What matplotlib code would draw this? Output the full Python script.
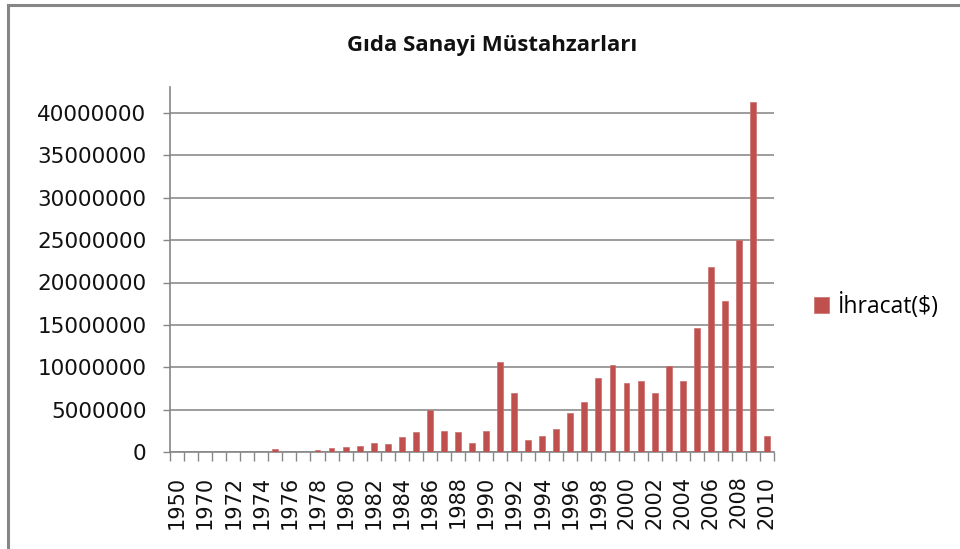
import matplotlib
matplotlib.use("Agg")
import matplotlib.pyplot as plt
from matplotlib.patches import Patch
from matplotlib.lines import Line2D
import numpy as np

years = ["1950", "1960"] + [str(y) for y in range(1970, 2011)]
values = [0, 0,                       # 1950, 1960
          0, 0, 0, 0, 0,              # 1970-1974
          0.35e6, 0, 0, 0.2e6, 0.47e6,  # 1975-1979
          0.6e6, 0.75e6, 1.06e6, 0.9e6, 1.73e6,   # 1980-1984
          2.32e6, 4.95e6, 2.48e6, 2.32e6, 1.06e6,  # 1985-1989
          2.48e6, 10.6e6, 6.97e6, 1.46e6, 1.89e6,  # 1990-1994
          2.76e6, 4.62e6, 5.93e6, 8.70e6, 10.28e6,  # 1995-1999
          8.14e6, 8.38e6, 6.96e6, 10.12e6, 8.38e6,  # 2000-2004
          14.62e6, 21.86e6, 17.83e6, 25.02e6, 41.26e6,  # 2005-2009
          1.86e6]                                  # 2010
yticks = [0, 5000000, 10000000, 15000000, 20000000, 25000000, 30000000, 35000000, 40000000]
title = "Gıda Sanayi Müstahzarları"
series_name = "İhracat($)"

W, H = 960, 549
fig = plt.figure(figsize=(W / 100, H / 100), dpi=100)
fig.patch.set_facecolor("white")

# outer chart border (top and left visible)
fig.add_artist(Line2D([8 / W, 8 / W], [-0.05, 1 - 5 / H], transform=fig.transFigure,
                      color="#868686", lw=2.2))
fig.add_artist(Line2D([8 / W, 1.05], [1 - 5 / H, 1 - 5 / H], transform=fig.transFigure,
                      color="#868686", lw=2.2))

left, right, bottom, top = 170, 774, 452, 87
ax = fig.add_axes([left / W, 1 - bottom / H, (right - left) / W, (bottom - top) / H])

x = np.arange(len(years))
bar_color = "#C0504D"
ax.bar(x, values, width=0.42, color=bar_color, edgecolor="#C9706D", linewidth=0.5,
       label=series_name, zorder=3)

ax.set_xlim(-0.5, len(years) - 0.5)
ax.set_ylim(0, 40000000 * (bottom - top) / (bottom - 113))

ax.set_yticks(yticks)
ax.set_yticklabels([str(v) for v in yticks])
ax.yaxis.grid(True, color="#8C8C8C", lw=1.2, zorder=0)
ax.set_axisbelow(True)

ax.set_xticks(x[::2])
ax.set_xticklabels(years[::2], rotation=90)
ax.set_xticks(np.arange(len(years) + 1) - 0.5, minor=True)
ax.tick_params(axis="x", which="major", length=0, pad=17, labelsize=15, labelcolor="#111111")
ax.tick_params(axis="x", which="minor", length=6.5, width=1, color="#868686", direction="out")
ax.tick_params(axis="y", which="major", length=5, width=1, color="#868686", pad=12,
               labelsize=15.5, labelcolor="#111111")

for s in ["top", "right"]:
    ax.spines[s].set_visible(False)
for s in ["left", "bottom"]:
    ax.spines[s].set_color("#868686")
    ax.spines[s].set_linewidth(1.2)

fig.text(492 / W, 1 - 45 / H, title, ha="center", va="center", fontsize=16,
         fontweight="bold", family=["Open Sans", "DejaVu Sans"], color="#111111")

handle = Patch(facecolor=bar_color, edgecolor="#C9706D", linewidth=0.5)
fig.legend([handle], [series_name], loc="center left",
           bbox_to_anchor=(814 / W, 1 - 306 / H), frameon=False,
           handlelength=0.65, handleheight=0.65, handletextpad=0.4,
           borderpad=0, borderaxespad=0,
           prop={"family": ["Open Sans", "DejaVu Sans"], "size": 16.5})

fig.savefig("out.png", dpi=100, facecolor="white")
